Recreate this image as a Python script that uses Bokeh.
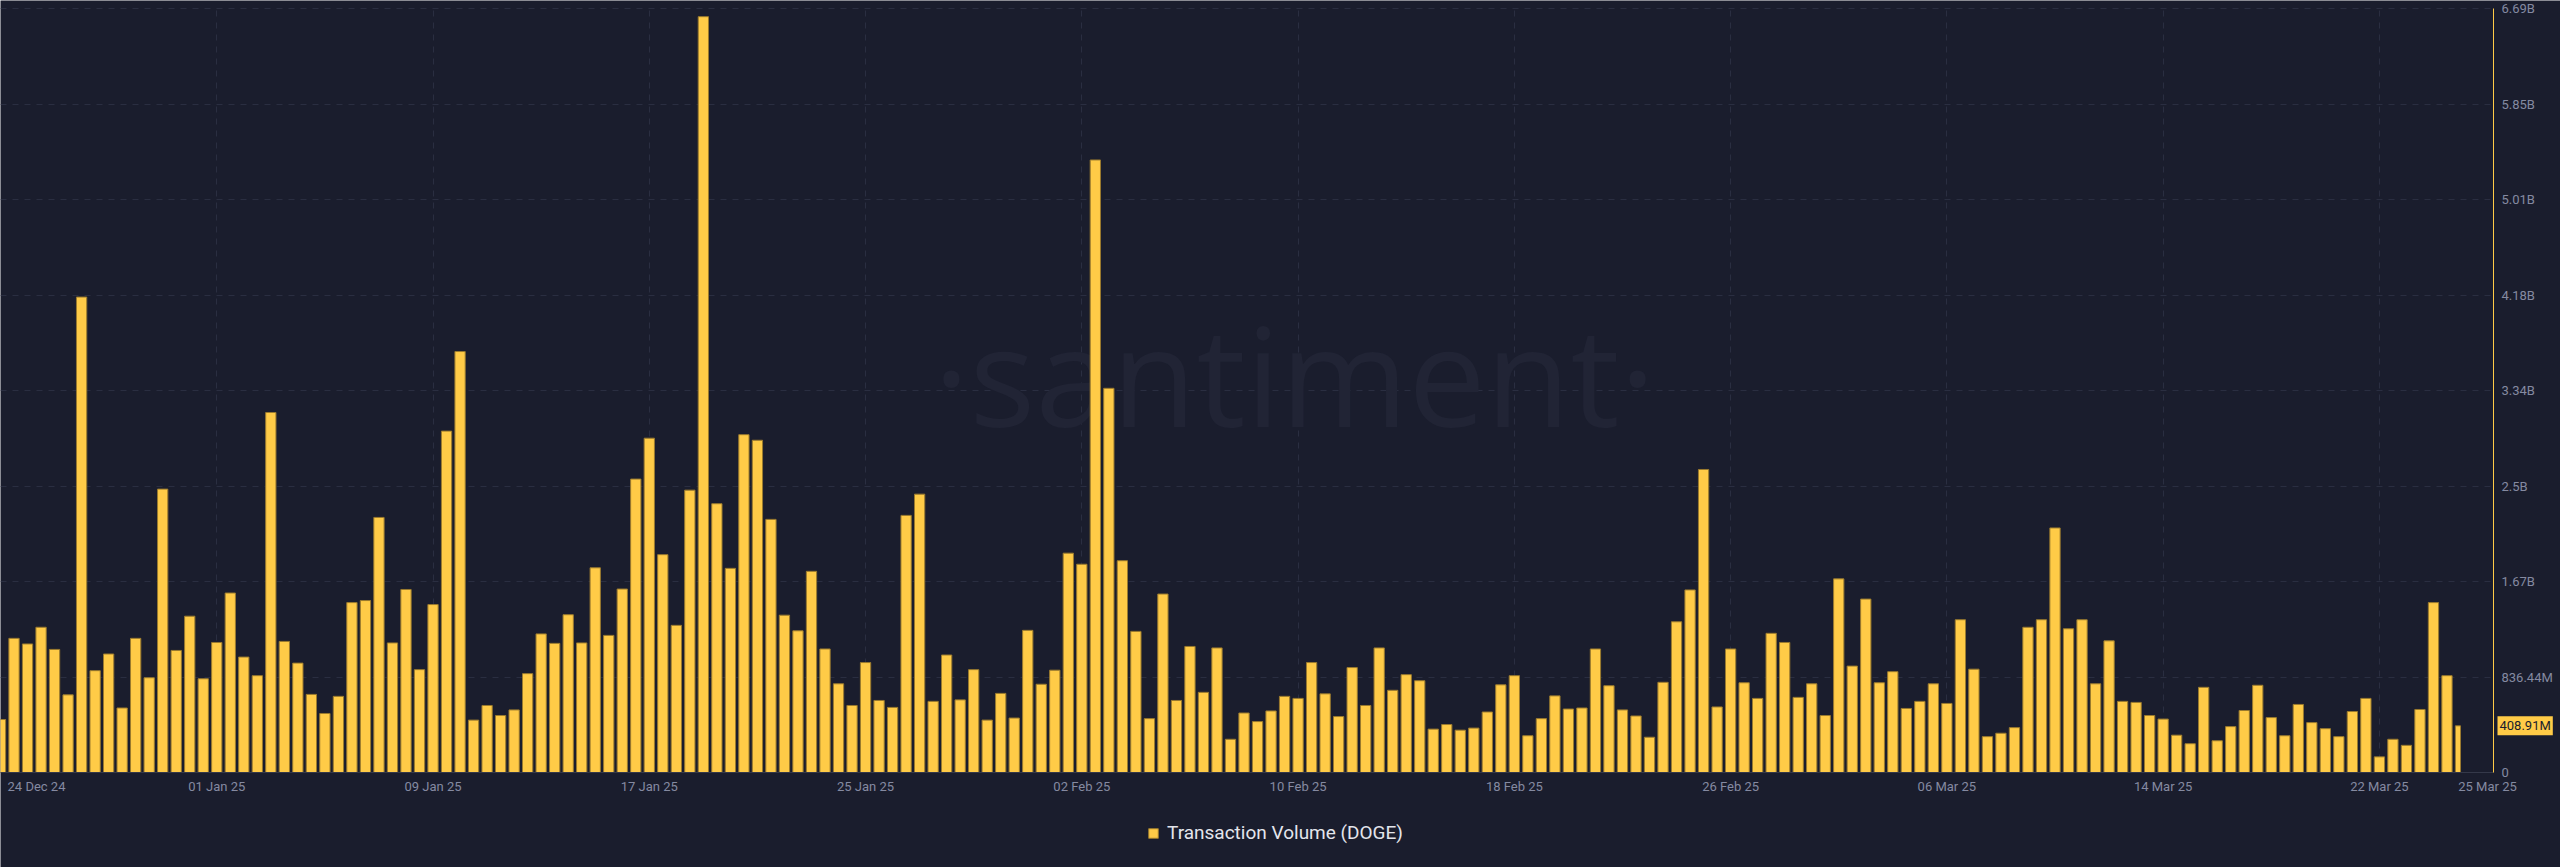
import pandas as pd
from bokeh.plotting import figure
from bokeh.models import Range1d, FixedTicker, Label, Legend, LegendItem, ColumnDataSource
from bokeh.embed import file_html
from bokeh.resources import INLINE

# ---------------- data ----------------
series_name = "Transaction Volume (DOGE)"
start_time = "2024-12-24 00:00"
step = "12h"

# transaction volume per 12h interval, in millions of DOGE
volume_m = [
    464, 1175, 1126, 1272, 1078, 680, 4164, 892, 1038, 565,
    1175, 830, 2482, 1069, 1369, 821, 1139, 1572, 1011, 848,
    3153, 1148, 958, 684, 517, 667, 1488, 1506, 2234, 1135,
    1603, 901, 1471, 2990, 3687, 459, 587, 499, 548, 866,
    1214, 1131, 1382, 1135, 1793, 1201, 1607, 2570, 2928, 1908,
    1289, 2473, 6620, 2354, 1788, 2959, 2910, 2217, 1378, 1241,
    1762, 1082, 777, 587, 963, 631, 570, 2252, 2438, 623,
    1029, 636, 901, 459, 693, 477, 1245, 773, 896, 1921,
    1824, 5365, 3365, 1855, 1236, 472, 1563, 631, 1104, 702,
    1091, 291, 521, 446, 539, 667, 649, 963, 689, 490,
    919, 587, 1091, 720, 857, 804, 380, 420, 371, 389,
    530, 768, 848, 322, 472, 671, 556, 565, 1082, 760,
    548, 495, 309, 790, 1320, 1599, 2654, 574, 1082, 786,
    649, 1219, 1139, 658, 777, 499, 1696, 932, 1519, 786,
    883, 561, 623, 777, 605, 1338, 905, 314, 344, 393,
    1272, 1338, 2142, 1259, 1338, 777, 1153, 623, 614, 499,
    468, 327, 252, 746, 278, 402, 543, 764, 481, 322,
    596, 437, 384, 314, 534, 649, 137, 291, 238, 552,
    1488, 848, 408.91,
]

x_tick_dates = ["2025-01-01", "2025-01-09", "2025-01-17", "2025-01-25",
                "2025-02-02", "2025-02-10", "2025-02-18", "2025-02-26",
                "2025-03-06", "2025-03-14", "2025-03-22"]
x_tick_labels = ["01 Jan 25", "09 Jan 25", "17 Jan 25", "25 Jan 25",
                 "02 Feb 25", "10 Feb 25", "18 Feb 25", "26 Feb 25",
                 "06 Mar 25", "14 Mar 25", "22 Mar 25"]
first_tick_label = "24 Dec 24"
last_tick_label = "25 Mar 25"

y_ticks_m = [0, 836.44, 1672.88, 2509.32, 3345.76, 4182.2, 5018.64, 5855.08, 6691.52]
y_tick_labels = ["0", "836.44M", "1.67B", "2.5B", "3.34B", "4.18B", "5.01B", "5.85B", "6.69B"]
last_value_label = "408.91M"

# ---------------- styling / layout ----------------
BG = "#1a1d2d"
BAR = "#ffcb47"
BAR_LINE = "#9a7a2e"
GRID = "#2a2e41"
TICK_TXT = "#858aa1"
FONT = "Roboto"

W, H = 2560, 867          # canvas
TOP_PX, ZERO_PX = 8, 772  # pixel rows of the max tick and of zero
DATA_W = 2460             # px between first and last timestamp
AXIS_X = 2493             # px of the value axis line


def to_ms(s):
    return int(pd.Timestamp(s).value // 10**6)


times = [int(t.value // 10**6) for t in pd.date_range(start_time, periods=len(volume_m), freq=step)]
interval = times[1] - times[0]
half_w = 0.38 * interval
t_first, t_last = times[0], times[-1]
ms_per_px = (t_last - t_first) / DATA_W
x_end = t_first + W * ms_per_px
axis_x = t_first + AXIS_X * ms_per_px
y_max = y_ticks_m[-1]
y_per_px = y_max / (ZERO_PX - TOP_PX)
y_end = y_max + TOP_PX * y_per_px
y_start = -(H - ZERO_PX) * y_per_px

src = ColumnDataSource(dict(
    left=[t - half_w for t in times],
    right=[min(t + half_w, t_last) for t in times],
    top=volume_m,
    bottom=[0] * len(volume_m),
))

p = figure(width=W, height=H, output_backend="svg", toolbar_location=None,
           x_range=Range1d(t_first, x_end), y_range=Range1d(y_start, y_end),
           y_axis_location="right", min_border_left=0, min_border_top=0,
           min_border_right=0, min_border_bottom=0)
p.background_fill_color = BG
p.border_fill_color = BG
p.outline_line_color = None

# watermark
wm = Label(x=t_first + 1294 * ms_per_px, y=(ZERO_PX - 372) * y_per_px, text="·santiment·",
           text_font="Open Sans", text_font_size="138px", text_color="#212435",
           text_align="center", text_baseline="middle", level="underlay")
p.add_layout(wm)

r = p.quad(left="left", right="right", top="top", bottom="bottom", source=src,
           fill_color=BAR, line_color=BAR_LINE, line_width=1)

# x axis, drawn at value 0
xa = p.xaxis[0]
xa.fixed_location = 0
xa.bounds = (t_first, axis_x)
x_ticks = [to_ms(d) for d in x_tick_dates]
first_lab_x = int(t_first + 36 * ms_per_px)
last_lab_x = int(t_first + 2487 * ms_per_px)
xa.ticker = FixedTicker(ticks=[first_lab_x] + x_ticks + [last_lab_x])
ov = dict(zip(x_ticks, x_tick_labels))
ov[first_lab_x] = first_tick_label
ov[last_lab_x] = last_tick_label
xa.major_label_overrides = ov
xa.major_label_text_font = FONT
xa.major_label_text_font_size = "13px"
xa.major_label_text_color = TICK_TXT
xa.major_label_standoff = 6
xa.major_tick_line_color = None
xa.minor_tick_line_color = None
xa.major_tick_out = 0
xa.major_tick_in = 0
xa.axis_line_color = "#343849"

# y axis on the right, drawn at the end of the time span
ya = p.yaxis[0]
ya.fixed_location = axis_x
ya.bounds = (0, y_max)
ya.ticker = FixedTicker(ticks=y_ticks_m)
ya.major_label_overrides = dict(zip(y_ticks_m, y_tick_labels))
ya.major_label_text_font = FONT
ya.major_label_text_font_size = "13px"
ya.major_label_text_color = TICK_TXT
ya.major_label_standoff = 8
ya.major_tick_line_color = None
ya.minor_tick_line_color = None
ya.major_tick_out = 0
ya.major_tick_in = 0
ya.axis_line_color = BAR

# grids
p.xgrid.ticker = FixedTicker(ticks=[t_first] + x_ticks)
p.xgrid.grid_line_color = GRID
p.xgrid.grid_line_dash = "6 6"
p.ygrid.ticker = FixedTicker(ticks=y_ticks_m[1:])
p.ygrid.grid_line_color = GRID
p.ygrid.grid_line_dash = "6 6"
p.xgrid.cross_bounds = (0, y_max)
p.ygrid.cross_bounds = (t_first, axis_x)

# last value badge
p.add_layout(Label(x=axis_x, y=volume_m[-1], x_offset=4, text=last_value_label,
                   text_align="left", text_baseline="middle", text_font=FONT,
                   text_font_size="13px", text_color=BG,
                   background_fill_color=BAR, padding=2))

legend = Legend(items=[LegendItem(label=series_name, renderers=[r])],
                location=(1147, 23), orientation="horizontal",
                background_fill_alpha=0, border_line_color=None,
                label_text_color="#e3e5ec", label_text_font=FONT,
                label_text_font_size="19px", glyph_width=12, glyph_height=12,
                label_standoff=8, padding=0, margin=0, label_height=20)
p.add_layout(legend, "center")

open("out.html", "w").write(file_html(p, INLINE))
